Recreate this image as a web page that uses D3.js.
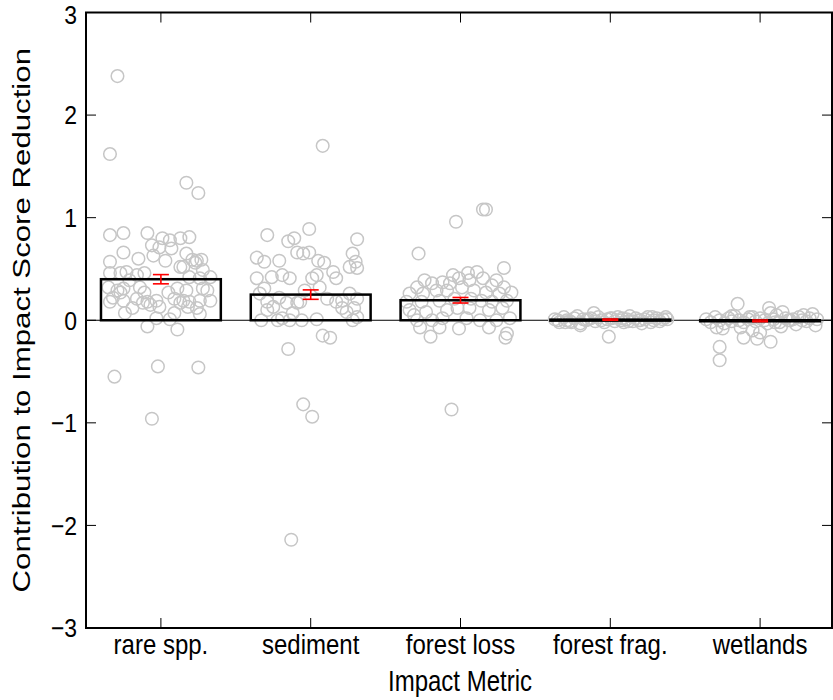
<!DOCTYPE html>
<html>
<head>
<meta charset="utf-8">
<script src="https://cdn.jsdelivr.net/npm/d3@7"></script>
<style>
  html, body { margin: 0; padding: 0; background: #fff; }
  svg text { font-family: "Liberation Sans", Arial, sans-serif; fill: #000; }
</style>
</head>
<body>
<svg id="chart" width="833" height="700"></svg>
<script>
// ---------------- DATA ----------------
const categories = ["rare spp.", "sediment", "forest loss", "forest frag.", "wetlands"];
const barValues = [0.40, 0.25, 0.195, 0.006, -0.006];
const errValues = [0.045, 0.046, 0.027, 0.006, 0.008];
const yTicks = [-3, -2, -1, 0, 1, 2, 3];
const yTickLabels = ["\u22123", "\u22122", "\u22121", "0", "1", "2", "3"];

// per-category scatter: values and horizontal jitter (in category units)
const rareValues = [2.38, 1.62, 1.34, 1.24, 0.83, 0.85, 0.85, 0.80, 0.78, 0.80, 0.81, 0.73, 0.71, 0.70, 0.65, 0.66, 0.57, 0.60, 0.63, 0.58, 0.59, 0.59, 0.58, 0.52, 0.56, 0.49, 0.42, 0.52, 0.46, 0.46, 0.47, 0.44, 0.46, 0.42, 0.41, 0.32, 0.29, 0.31, 0.32, 0.27, 0.31, 0.29, 0.31, 0.29, 0.22, 0.19, 0.21, 0.18, 0.19, 0.21, 0.19, 0.18, 0.27, 0.17, 0.15, 0.12, 0.17, 0.13, 0.12, 0.19, 0.27, 0.18, 0.13, -0.06, 0.02, 0.01, -0.09, -0.55, -0.45, -0.46, -0.96, 0.39, 0.19, 0.07, 0.07, 0.06];
const rareJitter = [-0.29, -0.34, 0.17, 0.25, -0.34, -0.25, -0.09, 0.01, 0.06, 0.13, 0.19, -0.06, -0.01, 0.07, 0.17, -0.25, -0.34, -0.15, -0.05, 0.03, 0.21, 0.27, 0.24, 0.15, 0.23, 0.28, 0.33, 0.13, -0.34, -0.27, -0.23, -0.16, -0.11, 0.19, 0.26, -0.35, -0.29, -0.25, -0.14, -0.11, 0.11, 0.17, 0.28, 0.31, -0.32, -0.25, -0.16, -0.09, -0.03, 0.09, 0.15, 0.19, -0.27, -0.12, -0.07, -0.19, 0.13, 0.18, 0.24, 0.26, 0.05, -0.34, -0.01, -0.09, -0.03, 0.06, 0.11, -0.31, -0.02, 0.25, -0.06, -0.21, 0.33, 0.09, -0.24, 0.26];

const sedimentValues = [1.70, 0.83, 0.89, 0.77, 0.80, 0.79, 0.61, 0.57, 0.58, 0.66, 0.65, 0.66, 0.58, 0.65, 0.52, 0.57, 0.51, 0.41, 0.42, 0.44, 0.41, 0.41, 0.44, 0.47, 0.41, 0.26, 0.18, 0.13, 0.22, 0.17, 0.17, 0.18, 0.32, 0.21, 0.18, 0.19, 0.26, 0.21, 0.12, 0.00, 0.00, 0.00, 0.00, 0.01, 0.00, 0.10, 0.07, 0.08, 0.02, 0.12, 0.03, -0.15, -0.17, -0.28, -0.82, -0.94, -2.14, 0.56, 0.31, 0.29];
const sedimentJitter = [0.08, -0.29, -0.01, -0.15, -0.11, 0.31, -0.36, -0.31, -0.21, -0.09, -0.05, -0.01, 0.05, 0.28, 0.26, 0.30, 0.31, -0.36, -0.26, -0.19, -0.14, 0.01, 0.04, 0.15, 0.17, -0.34, -0.29, -0.25, -0.21, -0.16, -0.09, -0.07, 0.06, 0.11, 0.17, 0.21, 0.26, 0.31, 0.29, -0.33, -0.22, -0.14, -0.06, 0.04, 0.28, -0.29, -0.12, 0.24, -0.19, 0.21, 0.31, 0.08, 0.13, -0.15, -0.05, 0.01, -0.13, 0.09, -0.31, -0.04];

const forestLossValues = [1.08, 1.08, 0.96, 0.65, 0.51, -0.87, -0.16, -0.17, 0.47, 0.46, 0.44, 0.36, 0.37, 0.41, 0.41, 0.34, 0.32, 0.32, 0.27, 0.26, 0.26, 0.29, 0.29, 0.32, 0.29, 0.27, 0.26, 0.18, 0.18, 0.19, 0.21, 0.19, 0.18, 0.19, 0.10, 0.08, 0.10, 0.12, 0.12, 0.10, 0.12, 0.00, 0.00, 0.02, 0.02, 0.00, 0.00, 0.02, -0.07, -0.07, -0.08, -0.07, -0.13, 0.36, 0.39, 0.39, 0.39, 0.05, 0.21];
const forestLossJitter = [0.17, 0.15, -0.03, -0.28, 0.29, -0.06, -0.20, 0.30, 0.11, 0.05, -0.05, -0.19, -0.12, -0.01, 0.15, 0.21, -0.29, 0.29, 0.34, -0.34, -0.25, -0.16, -0.09, 0.01, 0.09, 0.17, 0.26, -0.36, -0.26, -0.14, 0.07, 0.14, 0.21, 0.31, -0.34, -0.23, -0.09, -0.02, 0.06, 0.19, 0.28, -0.29, -0.19, -0.12, 0.04, 0.13, 0.24, 0.33, -0.27, -0.14, -0.01, 0.19, 0.31, -0.07, 0.06, -0.24, 0.24, -0.31, -0.04];

const forestFragValues = [0.01, -0.02, 0.03, 0.00, -0.01, 0.02, 0.04, -0.03, 0.01, 0.00, 0.07, -0.05, 0.02, -0.01, 0.03, 0.00, -0.02, 0.01, -0.16, 0.02, -0.01, 0.03, 0.00, -0.02, 0.01, 0.04, -0.01, 0.02, 0.00, -0.03, 0.01, 0.03, -0.02, 0.00, 0.02, -0.01, 0.01, 0.03, 0.00, -0.02, 0.01, 0.02, -0.01, 0.00, 0.03, 0.01, -0.02, 0.02];
const forestFragJitter = [-0.37, -0.34, -0.31, -0.29, -0.27, -0.24, -0.22, -0.20, -0.18, -0.16, -0.11, -0.20, -0.13, -0.10, -0.08, -0.06, -0.04, -0.02, -0.01, 0.01, 0.03, 0.05, 0.07, 0.09, 0.11, 0.13, 0.15, 0.17, 0.19, 0.21, 0.23, 0.25, 0.27, 0.29, 0.31, 0.33, 0.35, 0.37, -0.35, -0.26, -0.15, 0.00, 0.12, 0.20, 0.28, 0.38, -0.30, 0.08];

const wetlandsValues = [0.16, 0.12, 0.07, 0.08, -0.26, -0.39, -0.21, -0.17, -0.18, -0.10, -0.12, -0.07, -0.08, -0.07, 0.05, 0.01, -0.02, 0.03, 0.00, -0.03, 0.02, -0.01, 0.04, 0.00, -0.02, 0.01, 0.03, -0.01, 0.02, 0.00, -0.03, 0.01, 0.05, -0.02, 0.02, 0.00, 0.01, -0.04, 0.03, 0.00, -0.01, 0.02, 0.06, -0.05, 0.01, 0.03, -0.02, 0.00, 0.04, -0.06];
const wetlandsJitter = [-0.15, 0.06, 0.07, 0.15, -0.27, -0.27, 0.07, -0.11, -0.02, -0.05, 0.00, -0.29, -0.25, -0.13, 0.29, -0.36, -0.33, -0.30, -0.27, -0.24, -0.21, -0.19, -0.17, -0.14, -0.11, -0.08, -0.05, -0.03, 0.00, 0.03, 0.05, 0.09, 0.11, 0.13, 0.17, 0.19, 0.22, 0.24, 0.26, 0.28, 0.31, 0.33, 0.35, 0.37, 0.38, -0.07, 0.10, 0.20, -0.19, 0.14];

const seriesValues = [rareValues, sedimentValues, forestLossValues, forestFragValues, wetlandsValues];
const seriesJitter = [rareJitter, sedimentJitter, forestLossJitter, forestFragJitter, wetlandsJitter];

// ---------------- LAYOUT ----------------
const svg = d3.select("#chart");
const plotLeft = 86, plotRight = 832, plotTop = 12.5, plotBottom = 628;
const x = d3.scaleLinear().domain([0.5, 5.5]).range([plotLeft, plotLeft + 5 * 149.8]);
const y = d3.scaleLinear().domain([-3, 3]).range([plotBottom, plotTop]);
const fontSize = 24;
const vStretch = 1.3;      // text in the original figure is stretched vertically
const tickStretch = 1.12;

// zero line
svg.append("line")
  .attr("x1", plotLeft).attr("x2", plotRight)
  .attr("y1", y(0)).attr("y2", y(0))
  .attr("stroke", "#000").attr("stroke-width", 1);

// points
const pts = [];
seriesValues.forEach((vals, i) => {
  vals.forEach((v, j) => pts.push({ c: i + 1, v: v, j: seriesJitter[i][j] || 0 }));
});
svg.append("g").selectAll("circle").data(pts).join("circle")
  .attr("cx", d => x(d.c + d.j))
  .attr("cy", d => y(d.v))
  .attr("r", 6.3)
  .attr("fill", "none")
  .attr("stroke", "#c6c6c6")
  .attr("stroke-width", 1.5);

// bars
const bw = 0.8;
svg.append("g").selectAll("rect").data(barValues).join("rect")
  .attr("x", (d, i) => x(i + 1 - bw / 2))
  .attr("width", x(bw) - x(0))
  .attr("y", d => Math.min(y(d), y(0)))
  .attr("height", d => Math.max(Math.abs(y(d) - y(0)), 1))
  .attr("fill", "none")
  .attr("stroke", "#000")
  .attr("stroke-width", 2.5);

// error bars
const eg = svg.append("g").attr("stroke", "#ff0000").attr("stroke-width", 1.6);
barValues.forEach((m, i) => {
  const cx = x(i + 1), hw = 8;
  const y1 = y(m + errValues[i]), y2 = y(m - errValues[i]);
  eg.append("line").attr("x1", cx).attr("x2", cx).attr("y1", y1).attr("y2", y2);
  eg.append("line").attr("x1", cx - hw).attr("x2", cx + hw).attr("y1", y1).attr("y2", y1);
  eg.append("line").attr("x1", cx - hw).attr("x2", cx + hw).attr("y1", y2).attr("y2", y2);
});

// ticks (inward)
const tg = svg.append("g").attr("stroke", "#000").attr("stroke-width", 1);
yTicks.forEach(t => {
  tg.append("line").attr("x1", plotLeft).attr("x2", plotLeft + 10).attr("y1", y(t)).attr("y2", y(t));
  tg.append("line").attr("x1", plotRight).attr("x2", plotRight - 10).attr("y1", y(t)).attr("y2", y(t));
});
categories.forEach((c, i) => {
  tg.append("line").attr("x1", x(i + 1)).attr("x2", x(i + 1)).attr("y1", plotBottom).attr("y2", plotBottom - 10);
  tg.append("line").attr("x1", x(i + 1)).attr("x2", x(i + 1)).attr("y1", plotTop).attr("y2", plotTop + 10);
});

// frame
svg.append("rect")
  .attr("x", plotLeft).attr("y", plotTop)
  .attr("width", plotRight - plotLeft).attr("height", plotBottom - plotTop)
  .attr("fill", "none").attr("stroke", "#000").attr("stroke-width", 2);

// y tick labels
svg.append("g").selectAll("text").data(yTicks).join("text")
  .attr("transform", d => `translate(${plotLeft - 9},${Math.max(y(d), 14.5)}) scale(1,${tickStretch})`)
  .attr("dy", "0.36em")
  .attr("text-anchor", "end")
  .attr("font-size", 23)
  .text((d, i) => yTickLabels[i]);

// x tick labels
svg.append("g").selectAll("text").data(categories).join("text")
  .attr("transform", (d, i) => `translate(${x(i + 1)},${plotBottom + 26}) scale(1,1.18)`)
  .attr("text-anchor", "middle")
  .attr("font-size", fontSize)
  .text(d => d);

// axis titles
svg.append("text")
  .attr("transform", `translate(${(plotLeft + plotRight) / 2 + 1},691) scale(1,1.22)`)
  .attr("text-anchor", "middle")
  .attr("font-size", fontSize)
  .text("Impact Metric");

svg.append("text")
  .attr("transform", `translate(30, ${(plotTop + plotBottom) / 2}) scale(1,${vStretch}) rotate(-90)`)
  .attr("text-anchor", "middle")
  .attr("font-size", fontSize)
  .text("Contribution to Impact Score Reduction");
</script>
</body>
</html>
